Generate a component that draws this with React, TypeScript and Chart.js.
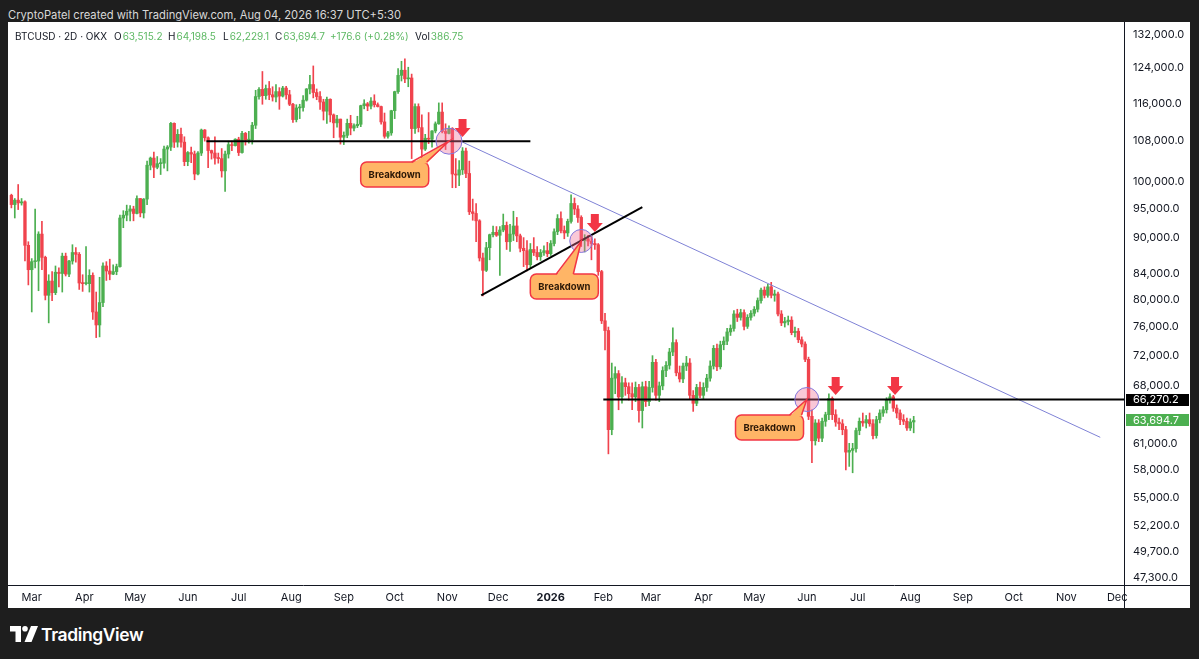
import React, { useEffect, useRef } from 'react';
import { Chart, registerables } from 'chart.js';

Chart.register(...registerables);

// ---------- DATA (prices in thousand USD, 2-day candles) ----------
const FIRST_CANDLE = '2025-02-16';
const CANDLE_DAYS = 2;

const OPEN = [
  97.5, 95.8, 96.6, 96.1, 96.3, 88.7, 84.7, 86.0, 86.1, 90.6,
  86.7, 80.7, 82.9, 81.1, 84.3, 84.1, 86.9, 84.0, 86.1, 87.5,
  87.2, 82.6, 82.5, 82.5, 83.8, 78.2, 76.3, 79.6, 85.3, 84.5,
  84.0, 84.4, 85.2, 93.4, 93.9, 94.6, 95.0, 94.2, 96.9, 94.3,
  96.8, 103.2, 104.6, 102.8, 103.5, 103.6, 106.4, 106.8, 111.7, 107.8,
  109.4, 107.8, 103.9, 105.7, 105.4, 101.5, 105.6, 110.3, 108.7, 106.1,
  105.6, 104.6, 104.5, 102.1, 105.4, 107.3, 107.1, 108.4, 105.7, 109.6,
  108.2, 108.3, 111.3, 117.5, 119.1, 117.7, 119.3, 117.9, 117.4, 118.6,
  117.6, 119.4, 117.9, 115.8, 112.5, 115.0, 115.1, 116.7, 119.2, 120.2,
  118.4, 117.5, 116.3, 114.3, 116.9, 113.5, 111.8, 112.6, 108.8, 109.2,
  111.7, 110.7, 111.2, 111.5, 115.5, 115.9, 115.4, 116.5, 115.7, 115.3,
  112.0, 109.0, 109.7, 114.4, 118.6, 122.3, 123.5, 121.5, 121.7, 110.6,
  115.3, 110.8, 106.4, 108.6, 108.4, 110.1, 111.6, 114.1, 110.0, 109.6,
  110.6, 101.5, 101.3, 102.3, 106.0, 101.6, 94.5, 94.2, 92.9, 86.6,
  84.6, 88.3, 90.5, 90.9, 90.4, 91.3, 92.1, 89.3, 90.6, 92.0,
  90.3, 88.2, 87.8, 85.5, 88.0, 87.5, 86.8, 87.5, 87.8, 87.3,
  89.0, 91.0, 93.3, 91.2, 90.8, 92.8, 96.0, 95.0, 93.5, 89.5,
  89.8, 89.4, 89.0, 88.8, 84.4, 76.9, 75.5, 62.6, 69.0, 69.6,
  66.6, 68.4, 67.9, 67.0, 66.6, 67.8, 64.9, 67.9, 66.0, 67.8,
  71.1, 66.8, 68.0, 70.0, 70.7, 72.5, 73.8, 69.7, 68.9, 70.6,
  71.0, 66.8, 65.8, 67.8, 66.8, 67.8, 69.0, 70.6, 73.0, 70.5,
  73.5, 74.0, 75.3, 75.8, 77.9, 77.4, 78.1, 76.1, 77.4, 78.0,
  78.6, 79.9, 81.5, 80.7, 82.0, 80.7, 80.9, 77.9, 76.6, 76.8,
  77.0, 75.2, 75.4, 74.2, 73.6, 71.5, 64.2, 61.3, 63.4, 61.6,
  63.6, 64.4, 66.4, 64.4, 63.5, 63.3, 62.6, 60.0, 60.2, 60.4,
  62.5, 63.6, 63.4, 63.8, 63.3, 61.9, 63.8, 64.6, 65.0, 66.2,
  66.6, 65.2, 64.6, 63.8, 63.6, 62.8, 63.5152,
];

const HIGH = [
  97.7, 96.9, 99.5, 96.9, 96.5, 89.3, 86.5, 95.0, 91.0, 92.8,
  86.9, 83.9, 84.4, 85.3, 85.0, 87.4, 87.4, 86.2, 88.8, 88.3,
  87.5, 83.9, 88.5, 84.7, 84.2, 81.2, 83.5, 85.8, 86.0, 86.4,
  85.5, 85.6, 93.9, 94.7, 95.7, 95.6, 95.5, 97.4, 96.9, 96.9,
  104.0, 104.8, 105.8, 104.9, 104.5, 107.0, 107.1, 111.9, 111.8, 110.4,
  110.7, 108.9, 105.9, 106.8, 106.0, 105.9, 110.5, 110.4, 108.9, 106.2,
  108.9, 105.6, 106.5, 106.0, 108.0, 108.0, 108.5, 108.8, 110.0, 109.8,
  110.0, 111.9, 118.9, 119.5, 123.2, 120.1, 120.9, 119.7, 120.2, 119.5,
  119.8, 119.8, 118.9, 116.0, 115.7, 115.8, 117.7, 119.3, 122.3, 124.5,
  119.2, 118.6, 116.9, 117.4, 117.0, 113.7, 113.4, 112.6, 109.9, 112.6,
  113.4, 111.6, 113.2, 115.6, 116.8, 116.2, 117.3, 117.9, 116.1, 115.4,
  113.9, 110.0, 114.5, 118.7, 123.9, 125.6, 126.2, 124.2, 122.6, 115.9,
  115.9, 113.5, 109.4, 114.0, 110.2, 112.0, 116.1, 116.1, 111.6, 111.2,
  110.8, 104.5, 104.1, 106.7, 106.6, 104.0, 96.8, 96.0, 93.1, 87.4,
  89.2, 90.6, 92.0, 91.9, 91.9, 94.1, 92.7, 92.3, 94.6, 93.5,
  90.6, 90.0, 89.5, 89.0, 90.0, 88.5, 88.0, 88.6, 89.2, 89.5,
  91.5, 94.0, 94.5, 92.0, 93.2, 97.6, 97.0, 95.6, 93.8, 90.5,
  90.4, 90.2, 89.8, 89.0, 84.6, 78.0, 76.0, 71.0, 70.5, 70.0,
  69.2, 69.0, 68.4, 68.4, 68.5, 68.2, 68.5, 68.6, 68.6, 72.0,
  71.5, 68.5, 70.5, 71.2, 73.0, 75.9, 74.2, 70.6, 71.0, 71.9,
  71.6, 67.4, 68.2, 68.5, 68.4, 69.5, 71.3, 73.4, 73.6, 74.0,
  74.6, 75.8, 76.3, 78.4, 78.6, 78.6, 78.5, 77.8, 78.4, 79.0,
  80.3, 81.8, 82.0, 82.4, 82.7, 81.5, 81.2, 78.4, 77.4, 77.6,
  77.5, 76.0, 75.8, 74.6, 73.9, 71.8, 65.0, 63.8, 63.8, 64.0,
  64.7, 67.0, 66.6, 65.0, 64.0, 63.8, 63.0, 61.0, 61.0, 62.8,
  64.0, 64.6, 64.3, 64.6, 63.8, 64.2, 65.0, 65.4, 66.5, 67.0,
  66.8, 65.6, 65.0, 64.4, 64.0, 63.9, 64.1985,
];

const LOW = [
  95.2, 93.4, 94.9, 95.7, 86.1, 82.3, 78.2, 85.0, 81.4, 84.7,
  80.0, 76.6, 79.9, 80.8, 82.0, 81.2, 83.7, 83.6, 85.6, 85.9,
  81.6, 81.3, 82.3, 81.2, 77.1, 74.5, 74.6, 79.0, 83.0, 83.1,
  83.9, 83.9, 85.1, 91.7, 92.9, 92.9, 92.9, 94.1, 93.6, 93.4,
  95.8, 102.3, 100.8, 102.5, 101.4, 102.6, 102.1, 106.1, 106.7, 106.8,
  106.8, 103.1, 103.1, 103.7, 100.4, 101.3, 105.1, 108.0, 102.7, 104.4,
  103.4, 103.6, 100.9, 98.2, 104.6, 106.1, 107.0, 105.1, 105.6, 107.2,
  107.6, 107.4, 110.6, 116.9, 115.8, 116.9, 116.8, 116.5, 116.3, 114.7,
  117.4, 116.9, 115.5, 111.9, 112.0, 112.7, 114.3, 116.5, 118.1, 117.2,
  116.8, 114.7, 112.4, 111.7, 112.0, 108.7, 110.9, 107.4, 107.3, 108.7,
  109.3, 110.1, 110.8, 111.0, 114.8, 114.4, 114.8, 115.2, 115.2, 111.5,
  108.6, 108.6, 109.2, 112.7, 118.2, 121.0, 120.6, 119.7, 104.5, 109.6,
  109.9, 103.5, 106.1, 107.5, 106.8, 109.7, 111.5, 109.7, 106.3, 109.5,
  98.9, 98.9, 99.3, 101.4, 100.8, 94.0, 93.0, 89.3, 86.1, 80.6,
  84.4, 86.3, 90.1, 90.2, 83.8, 91.0, 88.0, 87.7, 89.5, 89.3,
  87.6, 85.2, 84.5, 85.0, 87.0, 86.3, 86.2, 87.0, 86.8, 87.0,
  88.6, 90.5, 90.8, 89.8, 90.2, 92.5, 94.0, 92.6, 88.5, 87.6,
  88.6, 86.3, 88.0, 83.8, 76.5, 72.8, 59.8, 62.0, 67.0, 65.0,
  65.8, 66.8, 66.2, 65.0, 66.0, 63.5, 62.8, 65.4, 65.5, 67.2,
  66.2, 66.0, 67.5, 69.2, 70.2, 72.0, 69.3, 68.5, 68.4, 70.0,
  66.3, 64.8, 65.5, 66.5, 66.3, 67.3, 68.6, 70.2, 70.0, 70.2,
  72.8, 73.5, 74.8, 75.4, 76.8, 77.0, 75.6, 75.8, 77.0, 77.6,
  78.2, 79.5, 80.3, 80.4, 80.3, 79.8, 77.6, 76.2, 76.0, 76.3,
  74.9, 74.6, 73.8, 73.2, 71.2, 63.8, 58.8, 60.8, 61.2, 61.2,
  63.0, 63.8, 63.8, 63.0, 62.6, 62.0, 58.0, 58.4, 57.7, 60.0,
  62.0, 63.0, 62.8, 63.0, 61.5, 61.6, 63.4, 64.2, 64.6, 65.8,
  64.8, 64.0, 63.2, 63.2, 62.5, 62.5, 62.2291,
];

const CLOSE = [
  95.8, 96.6, 96.1, 96.3, 88.7, 84.7, 86.0, 86.1, 90.6, 86.7,
  80.7, 82.9, 81.1, 84.3, 84.1, 86.9, 84.0, 86.1, 87.5, 87.2,
  82.6, 82.5, 82.5, 83.8, 78.2, 76.3, 79.6, 85.3, 84.5, 84.0,
  84.4, 85.2, 93.4, 93.9, 94.6, 95.0, 94.2, 96.9, 94.3, 96.8,
  103.2, 104.6, 102.8, 103.5, 103.6, 106.4, 106.8, 111.7, 107.8, 109.4,
  107.8, 103.9, 105.7, 105.4, 101.5, 105.6, 110.3, 108.7, 106.1, 105.6,
  104.6, 104.5, 102.1, 105.4, 107.3, 107.1, 108.4, 105.7, 109.6, 108.2,
  108.3, 111.3, 117.5, 119.1, 117.7, 119.3, 117.9, 117.4, 118.6, 117.6,
  119.4, 117.9, 115.8, 112.5, 115.0, 115.1, 116.7, 119.2, 120.2, 118.4,
  117.5, 116.3, 114.3, 116.9, 113.5, 111.8, 112.6, 108.8, 109.2, 111.7,
  110.7, 111.2, 111.5, 115.5, 115.9, 115.4, 116.5, 115.7, 115.3, 112.0,
  109.0, 109.7, 114.4, 118.6, 122.3, 123.5, 121.5, 121.7, 110.6, 115.3,
  110.8, 106.4, 108.6, 108.4, 110.1, 111.6, 114.1, 110.0, 109.6, 110.6,
  101.5, 101.3, 102.3, 106.0, 101.6, 94.5, 94.2, 92.9, 86.6, 84.6,
  88.3, 90.5, 90.9, 90.4, 91.3, 92.1, 89.3, 90.6, 92.0, 90.3,
  88.2, 87.8, 85.5, 88.0, 87.5, 86.8, 87.5, 87.8, 87.3, 89.0,
  91.0, 93.3, 91.2, 90.8, 92.8, 96.0, 95.0, 93.5, 89.5, 89.8,
  89.4, 89.0, 88.8, 84.4, 76.9, 75.5, 62.6, 69.0, 69.6, 66.6,
  68.4, 67.9, 67.0, 66.6, 67.8, 64.9, 67.9, 66.0, 67.8, 71.1,
  66.8, 68.0, 70.0, 70.7, 72.5, 73.8, 69.7, 68.9, 70.6, 71.0,
  66.8, 65.8, 67.8, 66.8, 67.8, 69.0, 70.6, 73.0, 70.5, 73.5,
  74.0, 75.3, 75.8, 77.9, 77.4, 78.1, 76.1, 77.4, 78.0, 78.6,
  79.9, 81.5, 80.7, 82.0, 80.7, 80.9, 77.9, 76.6, 76.8, 77.0,
  75.2, 75.4, 74.2, 73.6, 71.5, 64.2, 61.3, 63.4, 61.6, 63.6,
  64.4, 66.4, 64.4, 63.5, 63.3, 62.6, 60.0, 60.2, 60.4, 62.5,
  63.6, 63.4, 63.8, 63.3, 61.9, 63.8, 64.6, 65.0, 66.2, 66.6,
  65.2, 64.6, 63.8, 63.6, 62.8, 63.5181, 63.6947,
];

// axes
const X_RANGE = ['2025-02-15', '2026-12-05'];
const PRICE_RANGE = [46671, 135284];
const Y_TICKS = [132000, 124000, 116000, 108000, 100000, 95000, 90000, 84000, 80000, 76000, 72000, 68000, 61000, 58000, 55000, 52200, 49700, 47300];
const MONTH_DATES = [
  '2025-03-01', '2025-04-01', '2025-05-01', '2025-06-01', '2025-07-01', '2025-08-01', '2025-09-01', '2025-10-01', '2025-11-01', '2025-12-01',
  '2026-01-01', '2026-02-01', '2026-03-01', '2026-04-01', '2026-05-01', '2026-06-01', '2026-07-01', '2026-08-01', '2026-09-01', '2026-10-01', '2026-11-01', '2026-12-01',
];
const MONTH_LABELS = ['Mar', 'Apr', 'May', 'Jun', 'Jul', 'Aug', 'Sep', 'Oct', 'Nov', 'Dec', '2026', 'Feb', 'Mar', 'Apr', 'May', 'Jun', 'Jul', 'Aug', 'Sep', 'Oct', 'Nov', 'Dec'];

// drawings (date, price)
const TREND_LINE: [string, number][] = [['2025-11-10', 107800], ['2026-11-21', 61700]];
const LEVEL_108K: [string, number][] = [['2025-06-12', 108000], ['2025-12-20', 108000]];
const SUPPORT_LINE: [string, number][] = [['2025-11-21', 80700], ['2026-02-24', 95360]];
const LEVEL_66K: [string, number][] = [['2026-02-01', 66270.2], ['2026-12-31', 66270.2]];
const CIRCLES: [string, number][] = [['2025-11-02', 108000], ['2026-01-19', 89430], ['2026-06-01', 66270]];
const CIRCLE_RADII = [13, 11.5, 12];
const ARROWS: [string, number][] = [['2025-11-10', 108850], ['2026-01-27', 90960], ['2026-06-18', 66850], ['2026-07-23', 66850]];
const CALLOUT_TEXT = 'Breakdown';
const CALLOUTS = [
  { at: ['2025-10-01', 101400] as [string, number], target: 0, base: [17, 32] },
  { at: ['2026-01-09', 82050] as [string, number], target: 1, base: [-8, 9] },
  { at: ['2026-05-10', 62860] as [string, number], target: 2, base: [20, 32] },
];
const PRICE_TAGS = [
  { value: 66270.2, label: '66,270.2', bg: '#000000' },
  { value: 63694.7, label: '63,694.7', bg: '#4caf50' },
];
const LEGEND_TITLE = 'BTCUSD · 2D · OKX';
const LEGEND_OHLC: [string, string, number][] = [['O', '63,515.2', 106], ['H', '64,198.5', 160], ['L', '62,229.1', 215], ['C', '63,694.7', 267]];
const LEGEND_CHANGE = '+176.6 (+0.28%)';
const LEGEND_VOL = '386.75';
const WATERMARK = 'CryptoPatel created with TradingView.com, Aug 04, 2026 16:37 UTC+5:30';

// ---------- helpers / styles ----------
const FONT = 'Inter, "Liberation Sans", Arial, sans-serif';
const UP = '#4caf50';
const DOWN = '#f0434d';
const VALUE_GREEN = '#5cb862';
const EPOCH = Date.UTC(2025, 2, 1);
const dayOf = (iso: string) => (Date.parse(iso) - EPOCH) / 864e5;
const candleX = (i: number) => dayOf(FIRST_CANDLE) + CANDLE_DAYS * i + CANDLE_DAYS / 2;
const fmtPrice = (v: number) => Number(v).toLocaleString('en-US', { minimumFractionDigits: 1, maximumFractionDigits: 1 });

const overlayPlugin = {
  id: 'overlay',
  afterDatasetsDraw(chart: any) {
    const { ctx, chartArea, scales } = chart;
    const xs = scales.x;
    const ys = scales.y;
    ctx.save();
    ctx.beginPath();
    ctx.rect(chartArea.left, chartArea.top, chartArea.right - chartArea.left, chartArea.bottom - chartArea.top);
    ctx.clip();
    // arrows
    ctx.fillStyle = '#f23645';
    for (const [d, p] of ARROWS) {
      const px = xs.getPixelForValue(dayOf(d));
      const py = ys.getPixelForValue(p);
      ctx.beginPath();
      ctx.moveTo(px, py);
      ctx.lineTo(px + 8, py - 9);
      ctx.lineTo(px + 4, py - 9);
      ctx.lineTo(px + 4, py - 18);
      ctx.lineTo(px - 4, py - 18);
      ctx.lineTo(px - 4, py - 9);
      ctx.lineTo(px - 8, py - 9);
      ctx.closePath();
      ctx.fill();
    }
    // callouts
    for (const c of CALLOUTS) {
      const cx = xs.getPixelForValue(dayOf(c.at[0]));
      const cy = ys.getPixelForValue(c.at[1]);
      const tgt = CIRCLES[c.target];
      const tx = xs.getPixelForValue(dayOf(tgt[0]));
      const ty = ys.getPixelForValue(tgt[1]);
      const w = 68, h = 25;
      const l = cx - w / 2, t = cy - h / 2;
      ctx.fillStyle = '#ffb566';
      ctx.strokeStyle = '#f23645';
      ctx.lineWidth = 1.5;
      ctx.beginPath();
      ctx.roundRect(l, t, w, h, 6);
      ctx.fill();
      ctx.stroke();
      const b1 = cx + c.base[0], b2 = cx + c.base[1];
      ctx.beginPath();
      ctx.moveTo(b1, t + 1.5);
      ctx.lineTo(tx, ty);
      ctx.lineTo(b2, t + 1.5);
      ctx.closePath();
      ctx.fill();
      ctx.beginPath();
      ctx.moveTo(b1, t);
      ctx.lineTo(tx, ty);
      ctx.lineTo(b2, t);
      ctx.stroke();
      ctx.fillStyle = '#2b1807';
      ctx.font = `bold 9.5px ${FONT}`;
      ctx.textAlign = 'center';
      ctx.textBaseline = 'middle';
      ctx.fillText(CALLOUT_TEXT, cx, cy + 0.5);
    }
    ctx.restore();
  },
  afterDraw(chart: any) {
    const { ctx, chartArea, width, height, scales } = chart;
    const ys = scales.y;
    ctx.save();
    // frame separators
    ctx.strokeStyle = '#131722';
    ctx.lineWidth = 1;
    const rx = Math.round(chartArea.right) + 0.5;
    const by = Math.round(chartArea.bottom) + 0.5;
    ctx.beginPath();
    ctx.moveTo(rx, 0);
    ctx.lineTo(rx, height);
    ctx.moveTo(0, by);
    ctx.lineTo(width, by);
    ctx.stroke();
    // price tags
    ctx.font = `11px ${FONT}`;
    ctx.textBaseline = 'middle';
    ctx.textAlign = 'left';
    for (const tag of PRICE_TAGS) {
      const py = ys.getPixelForValue(tag.value);
      ctx.fillStyle = tag.bg;
      ctx.fillRect(chartArea.right + 2, Math.round(py - 6), width - chartArea.right - 3, 12);
      ctx.fillStyle = '#ffffff';
      ctx.fillText(tag.label, chartArea.right + 9, py);
    }
    // legend header
    const ly = 15;
    ctx.font = `10px ${FONT}`;
    ctx.fillStyle = '#131722';
    ctx.fillText(LEGEND_TITLE, 7, ly);
    for (const [k, v, x0] of LEGEND_OHLC) {
      ctx.fillStyle = '#131722';
      ctx.fillText(k, x0, ly);
      const kw = ctx.measureText(k).width;
      ctx.fillStyle = VALUE_GREEN;
      ctx.fillText(v, x0 + kw + 1, ly);
    }
    ctx.fillStyle = VALUE_GREEN;
    ctx.fillText(LEGEND_CHANGE, 322, ly);
    ctx.fillStyle = '#131722';
    ctx.fillText('Vol', 407, ly);
    const vw = ctx.measureText('Vol').width;
    ctx.fillStyle = VALUE_GREEN;
    ctx.fillText(LEGEND_VOL, 407 + vw + 1, ly);
    ctx.restore();
  },
};

export default function App() {
  const ref = useRef<HTMLCanvasElement | null>(null);

  useEffect(() => {
    if (!ref.current) return;
    const colors = OPEN.map((o, i) => (CLOSE[i] >= o ? UP : DOWN));
    const wicks = OPEN.map((_, i) => ({ x: candleX(i), y: [LOW[i] * 1000, HIGH[i] * 1000] }));
    const bodies = OPEN.map((o, i) => ({ x: candleX(i), y: [o * 1000, CLOSE[i] * 1000] }));
    const pts = (arr: [string, number][]) => arr.map(([d, p]) => ({ x: dayOf(d), y: p }));

    const chart = new Chart(ref.current, {
      type: 'bar',
      data: {
        datasets: [
          { type: 'bar', data: wicks as any, backgroundColor: colors, barThickness: 1, grouped: false, order: 6 } as any,
          { type: 'bar', data: bodies as any, backgroundColor: colors, barThickness: 2.7, minBarLength: 1, grouped: false, order: 5 } as any,
          { type: 'line', data: pts(TREND_LINE), borderColor: '#7f82d6', borderWidth: 1, pointRadius: 0, order: 3 },
          { type: 'line', data: pts(LEVEL_108K), borderColor: '#000000', borderWidth: 2, pointRadius: 0, order: 2 },
          { type: 'line', data: pts(SUPPORT_LINE), borderColor: '#000000', borderWidth: 2, pointRadius: 0, order: 2 },
          { type: 'line', data: pts(LEVEL_66K), borderColor: '#000000', borderWidth: 2, pointRadius: 0, order: 2 },
          {
            type: 'line', data: pts(CIRCLES), showLine: false, pointRadius: CIRCLE_RADII,
            pointBackgroundColor: 'rgba(240,110,150,0.38)', pointBorderColor: '#8277dc', pointBorderWidth: 1, order: 1,
          } as any,
        ],
      },
      options: {
        responsive: false,
        animation: false,
        devicePixelRatio: 1,
        events: [],
        layout: { padding: 0, autoPadding: false } as any,
        plugins: { legend: { display: false }, tooltip: { enabled: false } },
        scales: {
          x: {
            type: 'linear',
            min: dayOf(X_RANGE[0]),
            max: dayOf(X_RANGE[1]),
            offset: false,
            grid: { display: false, drawTicks: false },
            border: { display: false },
            afterBuildTicks: (s: any) => { s.ticks = MONTH_DATES.map((d) => ({ value: dayOf(d) })); },
            afterFit: (s: any) => { s.height = 23; s.paddingLeft = 0; s.paddingRight = 0; },
            ticks: {
              autoSkip: false,
              maxRotation: 0,
              minRotation: 0,
              padding: 6,
              color: '#131722',
              font: (c: any) => ({ family: FONT, size: 11, weight: MONTH_LABELS[c.index] === '2026' ? 'bold' : 'normal' }),
              callback: (_v: any, i: number) => MONTH_LABELS[i],
            },
          } as any,
          y: {
            type: 'logarithmic',
            position: 'right',
            min: PRICE_RANGE[0],
            max: PRICE_RANGE[1],
            grid: { display: false, drawTicks: false },
            border: { display: false },
            afterBuildTicks: (s: any) => { s.ticks = Y_TICKS.map((v) => ({ value: v })); },
            afterFit: (s: any) => { s.width = 66; s.paddingTop = 0; s.paddingBottom = 0; },
            ticks: {
              autoSkip: false,
              padding: 9,
              color: '#131722',
              font: { family: FONT, size: 11 },
              callback: (v: any) => fmtPrice(Number(v)),
            },
          } as any,
        },
      },
      plugins: [overlayPlugin],
    });
    return () => chart.destroy();
  }, []);

  return (
    <div style={{ position: 'fixed', left: 0, top: 0, width: 1199, height: 659, background: '#1e1e1e', overflow: 'hidden' }}>
      <div style={{ position: 'absolute', left: 8, top: 7, lineHeight: '16px', fontSize: 11.2, color: '#d8d8d8', fontFamily: FONT, whiteSpace: 'nowrap' }}>
        {WATERMARK}
      </div>
      <div style={{ position: 'absolute', left: 8, top: 22, width: 1182, height: 586, background: '#ffffff' }}>
        <canvas ref={ref} width={1182} height={586} style={{ display: 'block', width: 1182, height: 586 }} />
      </div>
      <div style={{ position: 'absolute', left: 10, top: 624, height: 20, display: 'flex', alignItems: 'center' }}>
        <svg width="28" height="16" viewBox="0 0 28 16" style={{ display: 'block' }}>
          <path d="M0 0 H11 V16 H5.5 V5.5 H0 Z" fill="#ffffff" />
          <circle cx="15" cy="2.8" r="2.8" fill="#ffffff" />
          <path d="M21 0 H28 L21.5 16 H14.5 Z" fill="#ffffff" />
        </svg>
        <span style={{ marginLeft: 3, color: '#ffffff', fontFamily: FONT, fontSize: 17.5, fontWeight: 600, letterSpacing: -0.4 }}>TradingView</span>
      </div>
    </div>
  );
}
